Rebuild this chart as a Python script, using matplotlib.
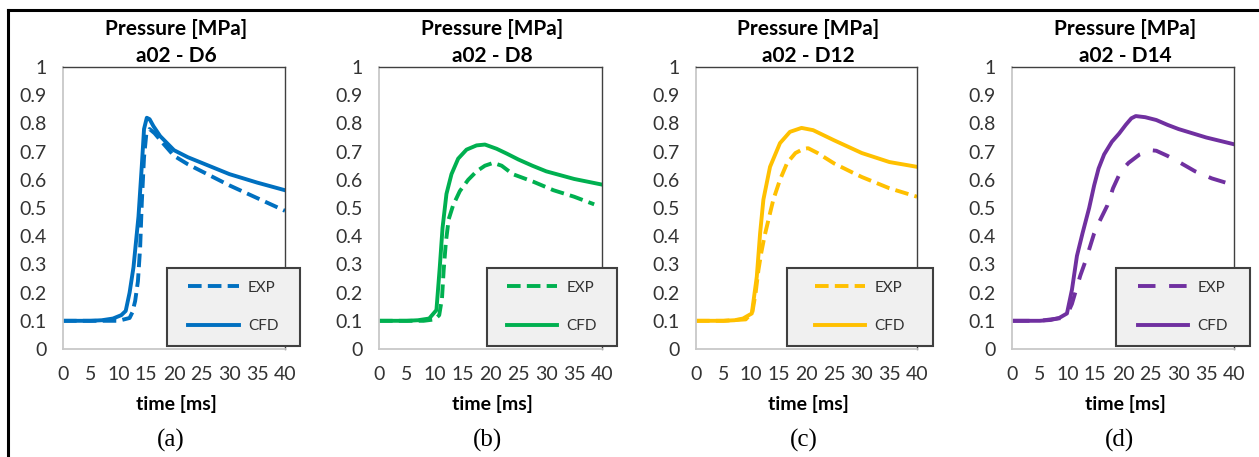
import matplotlib
matplotlib.use("Agg")
import matplotlib.pyplot as plt
from matplotlib.lines import Line2D
from matplotlib.patches import Rectangle

plt.rcParams['font.family'] = ['Lato', 'DejaVu Sans']

# data (time in ms, pressure in MPa)
cases = ["a02 - D6", "a02 - D8", "a02 - D12", "a02 - D14"]
letters = ["(a)", "(b)", "(c)", "(d)"]
colors = ["#0070C0", "#00B050", "#FFC000", "#7030A0"]

t_exp_a = [0, 5, 10, 12.0, 12.5, 13.0, 13.5, 13.9, 14.2, 14.6, 15.0, 15.6, 16.5, 18, 20, 22.5, 25, 30, 35, 40]
p_exp_a = [0.1, 0.1, 0.1, 0.11, 0.13, 0.17, 0.24, 0.36, 0.52, 0.68, 0.76, 0.78, 0.765, 0.73, 0.685, 0.655, 0.63, 0.58, 0.535, 0.49]
t_cfd_a = [0, 5, 7, 9, 10.5, 11.3, 12.0, 12.7, 13.6, 14.2, 14.6, 15.1, 15.6, 16.3, 17.5, 20, 22.5, 25, 27.5, 30, 35, 40]
p_cfd_a = [0.1, 0.1, 0.102, 0.108, 0.12, 0.135, 0.2, 0.29, 0.47, 0.65, 0.78, 0.82, 0.815, 0.79, 0.755, 0.705, 0.68, 0.66, 0.64, 0.62, 0.59, 0.563]

t_exp_b = [0, 5, 8, 10, 10.8, 11.3, 11.6, 12.0, 12.5, 13.3, 14.5, 16, 17.5, 19, 20.5, 22, 24, 27.7, 31.3, 35, 38.6]
p_exp_b = [0.1, 0.1, 0.1, 0.105, 0.12, 0.18, 0.28, 0.38, 0.46, 0.51, 0.56, 0.6, 0.63, 0.65, 0.66, 0.65, 0.62, 0.593, 0.563, 0.54, 0.513]
t_cfd_b = [0, 5, 7, 9, 10.3, 10.9, 11.4, 12.1, 13.0, 14.2, 15.7, 17.5, 19, 21.1, 22.9, 25, 27.5, 30, 35, 40]
p_cfd_b = [0.1, 0.1, 0.102, 0.108, 0.138, 0.29, 0.43, 0.55, 0.62, 0.675, 0.707, 0.722, 0.725, 0.71, 0.693, 0.672, 0.65, 0.63, 0.603, 0.583]

t_exp_c = [0, 5, 9, 10.2, 10.8, 11.3, 11.8, 12.4, 13.1, 14, 15.2, 16.5, 18, 19.5, 20.3, 22, 25, 28.4, 30, 35, 40]
p_exp_c = [0.1, 0.1, 0.105, 0.13, 0.2, 0.28, 0.34, 0.4, 0.457, 0.53, 0.6, 0.66, 0.695, 0.71, 0.712, 0.695, 0.658, 0.625, 0.61, 0.57, 0.54]
t_cfd_c = [0, 5, 7, 8.5, 10.1, 11.0, 11.6, 12.2, 13.4, 15.2, 17, 19.1, 21.2, 25, 30, 35, 40]
p_cfd_c = [0.1, 0.1, 0.102, 0.108, 0.126, 0.256, 0.41, 0.53, 0.646, 0.73, 0.77, 0.784, 0.776, 0.74, 0.695, 0.663, 0.646]

t_exp_d = [0, 5, 9, 10, 10.8, 11.4, 12.3, 13.3, 14.8, 15.7, 17.2, 18.2, 19.6, 21, 23, 25, 26, 28, 30, 33, 36, 39]
p_exp_d = [0.1, 0.1, 0.11, 0.125, 0.16, 0.2, 0.26, 0.315, 0.41, 0.45, 0.51, 0.57, 0.63, 0.66, 0.69, 0.705, 0.703, 0.685, 0.664, 0.63, 0.605, 0.587]
t_cfd_d = [0, 5, 7, 8.5, 9.9, 10.8, 11.7, 12.7, 13.9, 14.8, 15.6, 16.6, 18, 19.3, 20.5, 21.5, 22.3, 24, 26, 28, 30, 35, 40]
p_cfd_d = [0.1, 0.1, 0.103, 0.11, 0.126, 0.21, 0.33, 0.41, 0.5, 0.58, 0.64, 0.69, 0.735, 0.764, 0.795, 0.818, 0.826, 0.822, 0.812, 0.795, 0.78, 0.75, 0.726]

exp_t = [t_exp_a, t_exp_b, t_exp_c, t_exp_d]
exp_p = [p_exp_a, p_exp_b, p_exp_c, p_exp_d]
cfd_t = [t_cfd_a, t_cfd_b, t_cfd_c, t_cfd_d]
cfd_p = [p_cfd_a, p_cfd_b, p_cfd_c, p_cfd_d]

yticks = [0, 0.1, 0.2, 0.3, 0.4, 0.5, 0.6, 0.7, 0.8, 0.9, 1]
ylabels = ["0", "0.1", "0.2", "0.3", "0.4", "0.5", "0.6", "0.7", "0.8", "0.9", "1"]
xticks = [0, 5, 10, 15, 20, 25, 30, 35, 40]

W, H = 1259, 457
fig = plt.figure(figsize=(W / 100, H / 100), dpi=100)

# layout in pixels
ax_left = [63, 379, 696, 1012]
ax_w = [222, 223, 221, 222]
ax_top, ax_bot = 67, 349
leg_box = [(167, 300), (487, 617), (787, 933), (1116, 1250)]
leg_top, leg_bot = 268, 346
dashes = [(0, (3.5, 1.6)), (0, (3.5, 1.6)), (0, (3.5, 1.6)), (0, (4.5, 3.5))]

for k in range(4):
    l = ax_left[k] / W
    b = (H - ax_bot) / H
    ax = fig.add_axes([l, b, ax_w[k] / W, (ax_bot - ax_top) / H])
    ax.plot(exp_t[k], exp_p[k], color=colors[k], lw=2.8, ls=dashes[k], label="EXP")
    ax.plot(cfd_t[k], cfd_p[k], color=colors[k], lw=2.8, label="CFD",
            solid_joinstyle="round")
    ax.set_xlim(0, 40)
    ax.set_ylim(0, 1)
    ax.set_xticks(xticks)
    ax.set_yticks(yticks)
    ax.set_yticklabels(ylabels)
    ax.tick_params(length=0, labelsize=14, colors="#333333")
    ax.tick_params(axis="y", pad=12)
    ax.tick_params(axis="x", pad=12)
    for s in ["left", "bottom"]:
        ax.spines[s].set_color("#c8c8c8")
        ax.spines[s].set_linewidth(1.3)
    for s in ["top", "right"]:
        ax.spines[s].set_color("#404040")
        ax.spines[s].set_linewidth(1.0)

    cx = (ax_left[k] + ax_w[k] / 2 + 2) / W
    fig.text(cx, 1 - 29 / H, "Pressure [MPa]", ha="center", va="center",
             fontsize=15, fontweight="bold")
    fig.text(cx, 1 - 56 / H, cases[k], ha="center", va="center",
             fontsize=15, fontweight="bold")
    fig.text(cx, 1 - 404 / H, "time [ms]", ha="center", va="center",
             fontsize=14, fontweight="bold")
    fig.text(cx - 5 / W, 1 - 440 / H, letters[k], ha="center", va="center",
             fontsize=18, family="Liberation Serif")

    # legend box
    x0, x1 = leg_box[k]
    fig.patches.append(Rectangle((x0 / W, 1 - leg_bot / H), (x1 - x0) / W,
                                 (leg_bot - leg_top) / H, transform=fig.transFigure,
                                 facecolor="#f0f0f0", edgecolor="#404040", lw=1.5,
                                 zorder=4))
    handles = [Line2D([], [], color=colors[k], lw=2.8, ls=dashes[k]),
               Line2D([], [], color=colors[k], lw=2.8)]
    lg = fig.legend(handles, ["EXP", "CFD"], loc="center",
                    bbox_to_anchor=((x0 + x1) / 2 / W, 1 - (leg_top + leg_bot) / 2 / H),
                    frameon=False, fontsize=11, handlelength=3.3, labelspacing=1.6,
                    handletextpad=0.6)
    lg.set_zorder(5)
    for txt in lg.get_texts():
        txt.set_color("#333333")

# outer frame (top and left edges)
fig.add_artist(Line2D([8 / W, 1], [1 - 10 / H, 1 - 10 / H], color="black", lw=2.2,
                      transform=fig.transFigure))
fig.add_artist(Line2D([8 / W, 8 / W], [0, 1 - 10 / H], color="black", lw=2.2,
                      transform=fig.transFigure))

fig.savefig("out.png", dpi=100)
